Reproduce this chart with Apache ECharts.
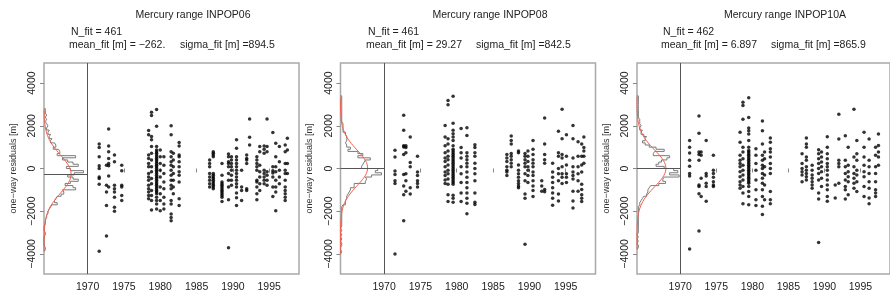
<!DOCTYPE html>
<html style="height:100%;margin:0;padding:0;">
<head>
<meta charset="utf-8">
<title>Mercury range residuals</title>
<script src="https://cdn.jsdelivr.net/npm/echarts@6/dist/echarts.min.js"></script>
</head>
<body style="margin:0;padding:0;background:#fff;">
<div id="main" style="width:890px;height:297px;"></div>
<script type="text/javascript">
// fit summary shown above each panel
var titles = ['Mercury range INPOP06', 'Mercury range INPOP08', 'Mercury range INPOP10A'];
var nFit = [461, 461, 462];
var meanFit = [-262, 29.27, 6.897];
var meanText = ['\u2212262.', '29.27', '6.897'];
var sigmaFit = [894.5, 842.5, 865.9];

var xTicks = [1970, 1975, 1980, 1985, 1990, 1995];
var yTicks = [-4000, -2000, 0, 2000, 4000];

// histograms of residuals, 100 m bins, counts listed from the lowest bin up
var binWidth = 100;
var histStart = [-3900, -4000, -3800];
var hist06 = [1,1,0,0,0,0,0,1,1,0, 0,0,1,1,1,2,2,3,3,4, 5,6,10,8,9,10,13,15,14,24,
  22,16,20,26,22,18,23,30,20,17, 26,22,18,14,24,10,12,11,7,9, 8,5,6,4,5,3,4,2,3,2, 1,2,1,2,1,1,1];
var hist08 = [1,0,0,1,1,0,1,0,1,0, 1,0,1,1,1,1,1,1,1,1, 1,1,2,4,4,5,5,6,7,8,
  8,11,11,20,21,20,25,33,28,30, 17,18,19,20,24,14,18,14,6,8, 5,4,5,5,5,4,4,2,2,2,
  2,1,1,1,1,1,1,1,1,1, 1,1,1,1];
var hist10a = [1,1,0,1,0,1,0,1,1,1, 1,1,1,1,1,1,1,1,1,1, 2,2,3,4,5,7,8,8,9,10,
  16,21,19,20,31,24,30,27,20,14, 16,18,22,24,12,13,20,14,9,6, 4,6,7,5,3,4,2,3,2,2,
  2,1,1,1,1,1,1,1,1,1, 1,1];
var histMax = [33, 35, 32];

// residuals [m] grouped by observation epoch: [year, [values]]
var cols06 = [
  [1971.6, [1153, 980, 553, 126, 0, -395, -474, -743, -3871]],
  [1972.6, [158, -790, -1106, -1738, -3160]],
  [1972.9, [1849, 1059, 790, 474, 237, 126, -348, -869]],
  [1973.7, [632, 316, -790, -948, -1106, -1343, -1817, -2007]],
  [1974.7, [158, -111, -790, -869, -1264, -1501]],
  [1978.4, [1785, 1580, 632, 474, 237, 79, -237, -395, -553, -790, -948, -1106, -1264, -1422]],
  [1978.8, [2639, 2481, 1501, 1343, 1027, 711, 395, 79, -158, -474, -711, -1027, -1264, -1501, -1943]],
  [1979.5, [2765, 1975, 1027, 869, 790, 711, 632, 553, 474, 395, 316, 237, 158, 79, 0, -79, -158, -237, -316, -395,
            -474, -553, -632, -711, -790, -869, -948, -1027, -1106, -1185, -1343, -1501, -1659, -1896]],
  [1980.0, [869, 553, 237, -79, -395, -869, -1185, -1501, -1975]],
  [1980.5, [553, 158, -237, -632, -948, -1343, -1659, -1896]],
  [1981.5, [2007, 1580, 790, 553, 316, 158, -79, -316, -553, -790, -948, -1501, -1659, -2133, -2291, -2449]],
  [1981.8, [711, 395, 79, -237, -553, -869, -1185]],
  [1982.6, [1217, 1059, 632, 553, 316, 79, -158, -316, -632, -1422, -1738]],
  [1986.8, [395, 237, 79, -237, -395, -553, -711, -869]],
  [1987.3, [790, 711, 632, 553, -237, -316, -395, -474, -553, -632, -711, -790, -869, -948]],
  [1988.5, [237, -316, -632, -711, -790, -869, -948, -1027, -1106, -1185, -1264, -1343, -1548]],
  [1989.4, [679, 553, 316, 237, 79, -237, -553, -869, -1469, -3713]],
  [1989.8, [553, 395, 237, 79, -79, -316, -553, -790]],
  [1990.5, [1343, 948, 553, 395, 237, 79, -79, -237, -395, -553, -711, -869, -1153, -1375, -1738]],
  [1991.2, [-79, -869, -1027, -1501]],
  [1991.9, [632, 474, 395, 237, -948, -1027]],
  [1992.3, [2323, 1469, 1106]],
  [1993.3, [553, 395, 237, 79, -79, -553, -632, -869, -1185, -1469]],
  [1993.7, [1027, 790, 158, -158, -395, -711, -1027]],
  [1994.3, [1059, 901, 711, -79, -237, -395, -553, -711]],
  [1994.7, [2323, 1027, 790, -158, -316, -553, -790]],
  [1995.5, [1691, 79, -111, -205, -395, -869, -1311]],
  [1995.9, [1185, 553, 79, -158, -553, -869, -1106, -1975]],
  [1996.4, [1027, 316, -79, -395, -711]],
  [1997.2, [1106, 790, 237, -79, -237, -553, -869, -1027, -1185, -1343, -1501]],
  [1997.5, [1422, 869, 237, -237]]
];
var cols08 = [
  [1971.5, [849, 539, -114, -278, -572, -702, -4000]],
  [1972.7, [2499, 1796, 1061, 1012, 653, -278, -817, -1225, -2450]],
  [1973.0, [1061, 980, 735, -245, -572, -1061]],
  [1973.6, [1470, 278, 82, -898, -1192]],
  [1974.6, [572, -163, -327, -572, -702, -866]],
  [1978.4, [2009, 1470, 1061, 735, 490, 327, 82, -163, -327, -539, -702]],
  [1978.8, [3184, 2989, 1388, 1143, 817, 572, 408, 163, -82, -245, -490, -735, -1225, -1551]],
  [1979.5, [3380, 2123, 1796, 1633, 1470, 1306, 1061, 898, 817, 735, 653, 572, 490, 408, 327, 245, 163, 82, 0, -82,
            -163, -245, -327, -408, -490, -572, -653, -735, -1257, -1388, -1584]],
  [1980.6, [1878, 980, 735, 490, 82, -245, -653, -1143, -1551]],
  [1981.4, [1911, 1551, 735, 572, 408, 245, 82, -163, -408, -653, -898, -1143, -1388, -1633, -2123]],
  [1982.5, [1110, 980, 735, 572, 245, 0, -245, -572, -1143, -1584, -1682]],
  [1986.9, [653, 490, 327, 82, -82, -163, -327]],
  [1987.5, [1519, 1306, 1143, 702, 572, 408, 245, 82]],
  [1988.5, [817, 735, 163, -82, -245, -408, -572, -702, -817, -898]],
  [1989.4, [702, 572, 408, 245, 82, -245, -572, -1192, -1388, -3544]],
  [1989.8, [817, 572, 327, 82, -82, -327, -653]],
  [1990.5, [1306, 898, 653, 408, 245, 82, -163, -327, -572, -817, -1029, -1306]],
  [1991.7, [-572, -817, -1061]],
  [1992.1, [2368, 1143, 653, 408, 245, -980, -1094]],
  [1993.2, [245, -163, -408, -653, -898, -1143, -1388, -1715]],
  [1994.0, [1747, 735, 572, 0, -245, -572, -1192, -1519]],
  [1994.5, [2776, 1388, 653, 490, 82, -245, -408, -702]],
  [1995.1, [1584, 572, 163, -245, -408, -653]],
  [1996.0, [2009, 1388, 490, 82, -163, -327, -490, -1061, -1519, -1845]],
  [1996.7, [1257, 572, 82, -245, -572, -1061]],
  [1997.2, [1143, 572, 163, -163, -735, -980, -1225, -1388, -1551]],
  [1997.5, [1470, 980, 817, 572, 245]]
];
var cols10a = [
  [1971.3, [1307, 1000, 723, 385, 108, -231, -354, -3768]],
  [1972.6, [2461, 1646, 769, 661, 385, -769, -846, -1184, -2922]],
  [1972.9, [769, 615, -461, -1307]],
  [1973.6, [1307, -231, -354, -692, -846, -1538]],
  [1974.6, [615, -77, -231, -415, -615, -769, -846]],
  [1978.3, [1692, 1230, 615, 385, 231, 77, -154, -385, -615, -769, -923]],
  [1978.7, [3107, 2953, 2307, 1000, 769, 461, 154, -77, -308, -538, -846, -1153, -1646]],
  [1979.5, [3307, 2384, 1892, 1769, 1615, 1307, 1000, 846, 769, 692, 615, 538, 461, 385, 308, 231, 154, 77, 0, -77,
            -154, -231, -308, -385, -461, -538, -615, -692, -846, -1077, -1307, -1692]],
  [1980.5, [923, 615, 231, -77, -538, -1000, -1461, -1738]],
  [1981.4, [2230, 1769, 1153, 615, 385, 154, 0, -231, -461, -692, -1000, -1307, -1769, -2153]],
  [1981.7, [769, 461, 77, -308, -769, -1461]],
  [1982.5, [1430, 1230, 923, 769, 538, 231, 0, -231, -1077, -1461, -1646]],
  [1986.9, [692, 231, 0, -154, -308, -615]],
  [1987.5, [1430, 1153, 1000, 538, 385, 77, -77, -231, -385, -538]],
  [1988.3, [154, -77, -308, -461, -615, -769, -923]],
  [1989.2, [877, 692, 461, 231, 0, -231, -538, -1153, -1430, -3461]],
  [1989.6, [769, 538, 308, 77, -154, -461, -846]],
  [1990.4, [1492, 1000, 692, 461, 231, 77, -77, -308, -538, -769, -1000, -1307, -1538]],
  [1991.5, [-769, -1384]],
  [1992.0, [2538, 1384, 385, 231, 77, -692]],
  [1992.9, [1538, 385, 77, -231, -538, -846, -1000, -1430]],
  [1993.3, [1000, 154, -154, -385, -615, -1230]],
  [1994.1, [2769, 538, 77, -231, -461, -692, -923]],
  [1994.5, [1307, 692, 385, -77, -308, -615, -1077]],
  [1995.5, [1692, 1000, 538, 154, -154, -385, -846, -1307]],
  [1996.2, [1384, 385, 77, -231, -615, -923, -1384, -1646]],
  [1997.1, [1000, 615, 77, -231, -615, -1000, -1153, -1307]],
  [1997.5, [1615, 1077, 769, 538, 154]]
];

var histCounts = [hist06, hist08, hist10a];
var residCols = [cols06, cols08, cols10a];

function flatten(cols) {
  var out = [];
  cols.forEach(function (c) {
    c[1].forEach(function (v) { out.push([c[0], v]); });
  });
  return out;
}
// step outline of a horizontal histogram
function histOutline(start, counts) {
  var pts = [[0, start]];
  for (var i = 0; i < counts.length; i++) {
    var lo = start + i * binWidth;
    pts.push([counts[i], lo]);
    pts.push([counts[i], lo + binWidth]);
  }
  pts.push([0, start + counts.length * binWidth]);
  return pts;
}
// fitted normal density, scaled to counts per bin
function fitCurve(p) {
  var amp = nFit[p] * binWidth / (sigmaFit[p] * Math.sqrt(2 * Math.PI));
  var lo = histStart[p] + 50, hi = histStart[p] + histCounts[p].length * binWidth - 50;
  var pts = [];
  for (var y = lo; y <= hi; y += 25) {
    var z = (y - meanFit[p]) / sigmaFit[p];
    pts.push([amp * Math.exp(-0.5 * z * z), y]);
  }
  return pts;
}
function plainNum(v) {
  return v < 0 ? '\u2212' + (-v) : String(v);
}

var panelLeft = [44, 340.5, 637];
var boxW = 255, histW = 43.5, boxTop = 63, boxH = 211;
var font = 'Liberation Sans, Arial, Helvetica, sans-serif';
var titleX = [193, 490, 785];
var nX = [71, 368, 663];
var meanX = [69, 366, 661];
var sigmaX = [180, 476, 771];

var grids = [], xAxes = [], yAxes = [], series = [], graphics = [];
for (var p = 0; p < 3; p++) {
  grids.push({left: panelLeft[p], top: boxTop, width: boxW, height: boxH, show: true,
              borderColor: '#a9a9a9', borderWidth: 1.5, backgroundColor: 'transparent'});
  grids.push({left: panelLeft[p], top: boxTop, width: histW, height: boxH});
  xAxes.push({type: 'value', gridIndex: 2 * p, min: 1964, max: 1999.1,
    splitLine: {show: false}, axisLine: {show: false},
    axisTick: {customValues: xTicks, length: 4, lineStyle: {color: '#888'}},
    axisLabel: {customValues: xTicks, fontSize: 10.5, color: '#222', margin: 8, fontFamily: font,
                formatter: plainNum}});
  xAxes.push({type: 'value', gridIndex: 2 * p + 1, min: 0, max: histMax[p], show: false});
  yAxes.push({type: 'value', gridIndex: 2 * p, min: -4940, max: 4940,
    name: 'one\u2212way residuals [m]', nameLocation: 'middle', nameGap: 26, nameRotate: 90,
    nameTextStyle: {fontSize: 9, color: '#333', fontFamily: font},
    splitLine: {show: false}, axisLine: {show: false},
    axisTick: {customValues: yTicks, length: 4, lineStyle: {color: '#888'}},
    axisLabel: {customValues: yTicks, rotate: 90, fontSize: 10.5, color: '#222', margin: 6, fontFamily: font,
                formatter: plainNum}});
  yAxes.push({type: 'value', gridIndex: 2 * p + 1, min: -4940, max: 4940, show: false});

  series.push({type: 'scatter', xAxisIndex: 2 * p, yAxisIndex: 2 * p, data: flatten(residCols[p]),
    symbol: 'circle', symbolSize: 3.5, itemStyle: {color: '#000'}, silent: true,
    markLine: {silent: true, symbol: ['none', 'none'], label: {show: false},
      lineStyle: {color: '#555', width: 1, type: 'solid'}, data: [{xAxis: 1970}]}});
  series.push({type: 'line', xAxisIndex: 2 * p + 1, yAxisIndex: 2 * p + 1,
    data: histOutline(histStart[p], histCounts[p]), symbol: 'none', silent: true,
    lineStyle: {color: '#7a7a7a', width: 1},
    markLine: {silent: true, symbol: ['none', 'none'], label: {show: false},
      lineStyle: {color: '#555', width: 1, type: 'solid'}, data: [{yAxis: meanFit[p]}]}});
  series.push({type: 'line', xAxisIndex: 2 * p + 1, yAxisIndex: 2 * p + 1,
    data: fitCurve(p), symbol: 'none', silent: true, smooth: false,
    lineStyle: {color: '#f0604c', width: 1}});

  graphics.push({type: 'text', x: titleX[p], y: 15, style: {text: titles[p], font: '10.5px ' + font,
    fill: '#222', align: 'center', verticalAlign: 'middle'}});
  graphics.push({type: 'text', x: nX[p], y: 32, style: {text: 'N_fit = ' + nFit[p], font: '10.5px ' + font,
    fill: '#222', align: 'left', verticalAlign: 'middle'}});
  graphics.push({type: 'text', x: meanX[p], y: 45, style: {text: 'mean_fit [m] = ' + meanText[p],
    font: '10.5px ' + font, fill: '#222', align: 'left', verticalAlign: 'middle'}});
  graphics.push({type: 'text', x: sigmaX[p], y: 45, style: {text: 'sigma_fit [m] =' + sigmaFit[p],
    font: '10.5px ' + font, fill: '#222', align: 'left', verticalAlign: 'middle'}});
}

var myChart = echarts.init(document.getElementById('main'), null, {renderer: 'canvas'});
myChart.setOption({
  animation: false,
  backgroundColor: '#fff',
  grid: grids,
  xAxis: xAxes,
  yAxis: yAxes,
  series: series,
  graphic: graphics
});
</script>
</body>
</html>
